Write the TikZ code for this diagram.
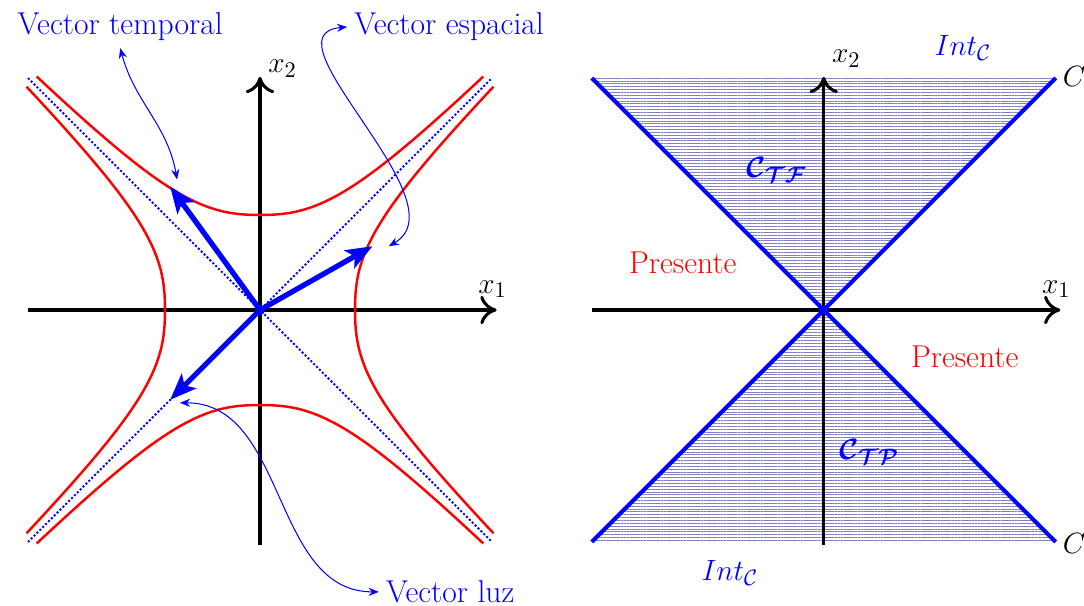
\documentclass[tikz,border=0pt]{standalone}
\usepackage{amsmath}
\usetikzlibrary{arrows.meta,patterns.meta}
\begin{document}
\begin{tikzpicture}[x=1cm,y=1cm,font=\fontsize{15.5}{18}\selectfont,
eje/.style={line width=1.5pt,-{Computer Modern Rightarrow[length=8pt,width=14pt]}},
hip/.style={red,line width=1.2pt},
vec/.style={blue,line width=2.6pt,-{Stealth[length=13pt,width=10pt,inset=3pt]}},
guia/.style={blue,line width=.5pt,{Stealth[length=5pt,width=4pt]}-{Stealth[length=5pt,width=4pt]}},
cono/.style={blue,line width=2pt},rotulo/.style={blue}]
\useasboundingbox (-4.483,-5.103) rectangle (14.207,5.345);
\newcommand{\ejes}[1]{\draw[eje] (-4,0)--(4.08,0) node[above,xshift=-2pt,yshift=2pt] (x1#1) {$x_1$};\draw[eje] (0,-4.05)--(0,4.02) node[right,yshift=#1] (x2#1) {$x_2$};}
\begin{scope}
\coordinate (O) at (0,0);
\draw[blue,densely dotted,line width=1pt] (-4,4)--(4,-4) (-4,-4)--(4,4);
\ejes{4pt}
\foreach \s in {1,-1}{\draw[hip] plot[domain=-3.85:3.85,samples=61,smooth] ({\x},{\s*((\x*\x+.0001)^1.25+3.44)^.4});\draw[hip] plot[domain=-3.85:3.85,samples=61,smooth] ({\s*((\x*\x+.0001)^1.25+3.44)^.4},{\x});}
\coordinate (vt) at (-1.55,2.13);\coordinate (ve) at (1.94,1.1);\coordinate (vl) at (-1.55,-1.55);
\foreach \p in {vt,ve,vl}{\draw[vec] (O)--(\p);}
\fill[blue] (O) circle[radius=2.5pt];
\node[rotulo] (temporal) at (-2.41,4.88) {Vector temporal};
\node[rotulo] (espacial) at (3.26,4.88) {Vector espacial};
\node[rotulo] (luz) at (3.28,-4.86) {Vector luz};
\coordinate (pt) at (-1.43,2.25);\coordinate (pe) at (2.22,1.1);\coordinate (pl) at (-1.38,-1.6);
\draw[guia] (temporal.south) to[out=-75,in=100] (pt);
\draw[guia] (espacial.west) to[out=185,in=30] (pe);
\draw[guia] (pl) to[out=0,in=180] (luz.west);
\end{scope}
\begin{scope}[xshift=9.72cm]
\coordinate (O2) at (0,0);
\fill[pattern={Lines[angle=0,distance=1.4pt,line width=.3pt]},pattern color=blue!35!gray!75] (O2)--(-4,4)--(4,4)--cycle (O2)--(-4,-4)--(4,-4)--cycle;
\ejes{9pt}
\draw[cono] (-4,4)--(4,-4) (-4,-4)--(4,4);
\fill[blue] (O2) circle[radius=2.5pt];
\node[rotulo] (intsup) at (2.40,4.52) {$Int_{\mathcal{C}}$};
\node[rotulo] (intinf) at (-1.62,-4.53) {$Int_{\mathcal{C}}$};
\node[anchor=west] (csup) at (4,4.03) {$C$};
\node[anchor=west] (cinf) at (4,-4.03) {$C$};
\node[rotulo] (ctf) at (-0.81,2.41) {$\boldsymbol{\mathcal{C}_{\mathcal{TF}}}$};
\node[rotulo] (ctp) at (0.79,-2.45) {$\boldsymbol{\mathcal{C}_{\mathcal{TP}}}$};
\node[red] (pres1) at (-2.43,0.81) {Presente};
\node[red] (pres2) at (2.43,-0.81) {Presente};
\end{scope}
\end{tikzpicture}
\end{document}
